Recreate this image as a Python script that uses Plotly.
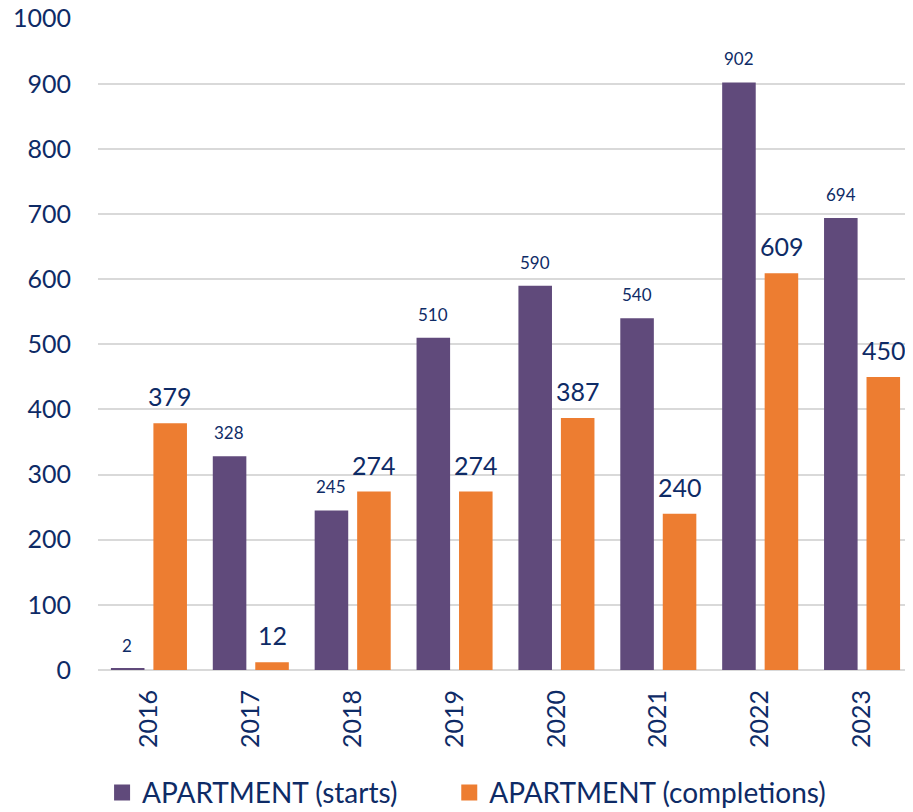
import plotly.graph_objects as go

years = ["2016", "2017", "2018", "2019", "2020", "2021", "2022", "2023"]
starts = [2, 328, 245, 510, 590, 540, 902, 694]
completions = [379, 12, 274, 274, 387, 240, 609, 450]
series_names = ["APARTMENT (starts)", "APARTMENT (completions)"]

navy = "#0E2B66"
font = "Lato, Calibri, Carlito, sans-serif"
purple = "#604A7B"
orange = "#ED7D31"

fig = go.Figure()
fig.add_trace(go.Bar(x=years, y=starts, name=series_names[0], marker_color=purple,
                     marker_line_width=0, showlegend=False))
fig.add_trace(go.Bar(x=years, y=completions, name=series_names[1], marker_color=orange,
                     marker_line_width=0, showlegend=False))

# legend entries (larger square swatches), one legend per series
fig.add_trace(go.Scatter(x=[None], y=[None], mode="markers", name=series_names[0],
                         marker=dict(symbol="square", size=18, color=purple), legend="legend"))
fig.add_trace(go.Scatter(x=[None], y=[None], mode="markers", name=series_names[1],
                         marker=dict(symbol="square", size=18, color=orange), legend="legend2"))

# value labels (annotations placed on the category index of each year)
for i, v in enumerate(starts):
    fig.add_annotation(x=i, y=v, text=str(v), showarrow=False, xshift=-21.5, yshift=11,
                       yanchor="bottom", font=dict(size=17, color=navy, family=font))
for i, v in enumerate(completions):
    fig.add_annotation(x=i, y=v, text=str(v), showarrow=False, xshift=21.5, yshift=10,
                       yanchor="bottom", font=dict(size=25, color=navy, family=font))

legend_common = dict(orientation="h", xanchor="left", y=-0.15, yanchor="top",
                     font=dict(size=28, color=navy, family=font), bgcolor="rgba(0,0,0,0)")

fig.update_layout(
    width=913, height=812,
    margin=dict(l=90, r=8, t=10, b=150, autoexpand=False),
    paper_bgcolor="white", plot_bgcolor="white",
    barmode="group", bargap=0.166, bargroupgap=0.21,
    font=dict(family=font, color=navy, size=25),
    showlegend=True,
    legend=dict(x=0.005, **legend_common),
    legend2=dict(x=0.431, **legend_common),
)
fig.update_yaxes(range=[0, 1001], tickvals=list(range(0, 1001, 100)), showgrid=True,
                 gridcolor="#D9D9D9", gridwidth=1.5, zeroline=True, zerolinecolor="#D9D9D9",
                 zerolinewidth=1.5, tickfont=dict(size=25, color=navy, family=font), ticks="",
                 ticklabelstandoff=26, automargin=False, ticklabeloverflow="allow")
fig.update_xaxes(type="category", range=[-0.5, 7.5], tickangle=-90,
                 tickfont=dict(size=25, color=navy, family=font),
                 ticks="", showline=False, ticklabelstandoff=14, automargin=False)

fig.write_html("out.html")
